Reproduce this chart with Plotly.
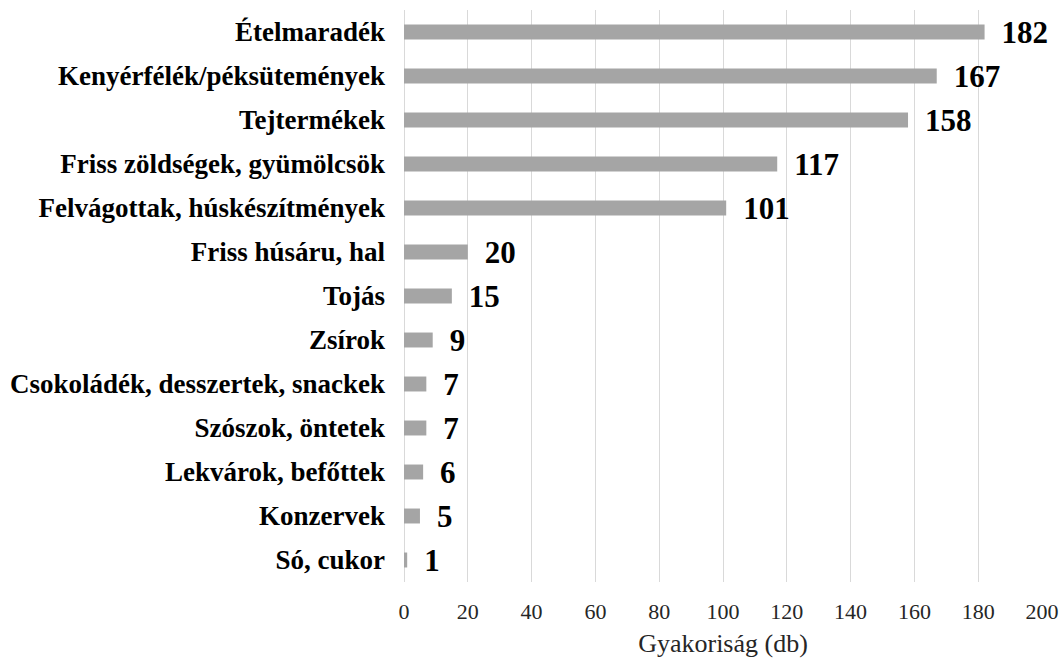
import plotly.graph_objects as go

categories = ["Ételmaradék", "Kenyérfélék/péksütemények", "Tejtermékek",
              "Friss zöldségek, gyümölcsök", "Felvágottak, húskészítmények",
              "Friss húsáru, hal", "Tojás", "Zsírok",
              "Csokoládék, desszertek, snackek", "Szószok, öntetek",
              "Lekvárok, befőttek", "Konzervek", "Só, cukor"]
values = [182, 167, 158, 117, 101, 20, 15, 9, 7, 7, 6, 5, 1]
x_ticks = list(range(0, 201, 20))

SERIF = "Liberation Serif"

fig = go.Figure(go.Bar(
    x=values, y=categories, orientation="h",
    marker=dict(color="#a5a5a5", line=dict(width=0)),
    text=values, textposition="outside",
    texttemplate=" \u2009%{text}",
    constraintext="none",
    textfont=dict(family=SERIF, size=31, color="black", weight="bold"),
    cliponaxis=False,
))

fig.update_layout(
    width=1061, height=659,
    margin=dict(l=404, r=19, t=10, b=77, autoexpand=False),
    paper_bgcolor="white", plot_bgcolor="white",
    bargap=0.66, showlegend=False,
    font=dict(family=SERIF, color="black", weight="normal"),
)
fig.update_xaxes(
    range=[0, 200], tickvals=x_ticks, showgrid=True, gridcolor="#d9d9d9", gridwidth=1,
    zeroline=True, zerolinecolor="#d9d9d9", zerolinewidth=1,
    tickfont=dict(size=22, family=SERIF, color="#262626", weight="normal"),
    ticklabelstandoff=14,
    title=dict(text="Gyakoriság (db)",
               font=dict(size=26, family=SERIF, color="#262626", weight="normal"),
               standoff=10),
    ticks="", showline=False, automargin=False,
)
fig.update_yaxes(
    categoryorder="array", categoryarray=categories[::-1],
    tickfont=dict(size=27, family=SERIF, color="black", weight="bold"),
    ticks="", showline=False, ticklabelstandoff=18, automargin=False,
)

fig.write_html("out.html", config={"displayModeBar": False},
               post_script="document.body.style.margin='0';document.body.style.padding='0';")
